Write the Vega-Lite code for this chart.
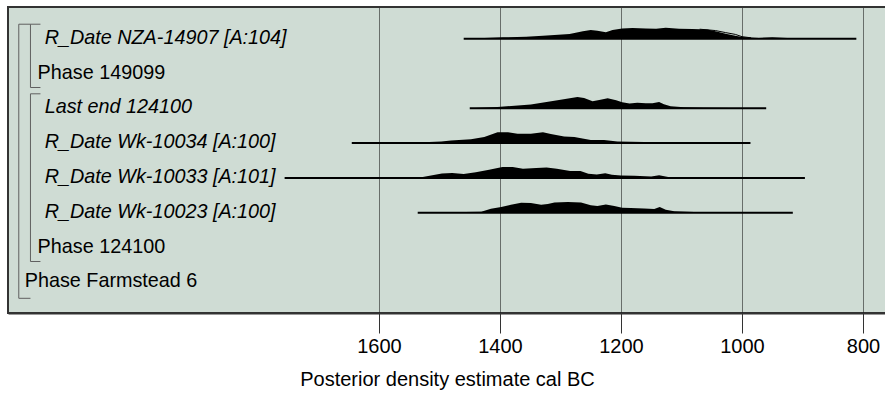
{
  "$schema": "https://vega.github.io/schema/vega-lite/v6.json",
  "width": 878,
  "height": 306,
  "autosize": {"type": "none"},
  "padding": {"left": 8, "top": 7, "right": 0, "bottom": 81},
  "background": "white",
  "config": {
    "view": {"fill": "#cfdcd4", "stroke": "#333333", "strokeWidth": 2},
    "font": "Liberation Sans",
    "axisX": {
      "grid": true, "gridColor": "#000000", "gridDash": [1, 1], "gridWidth": 1, "gridOpacity": 1,
      "tickSize": 20, "tickColor": "#333333", "tickWidth": 1,
      "domainColor": "#333333", "domainWidth": 2,
      "labelFontSize": 20, "labelFont": "Liberation Sans", "labelColor": "#000000", "labelPadding": 3,
      "labelFlush": false, "labelOverlap": false,
      "titleFontSize": 20, "titleFontWeight": "normal",
      "titleFont": "Liberation Sans", "titleColor": "#000000", "titlePadding": 13
    }
  },
  "datasets": {
    "ranges": [
      {"row": 0, "start": 1460, "end": 811},
      {"row": 2, "start": 1450, "end": 960},
      {"row": 3, "start": 1645, "end": 986},
      {"row": 4, "start": 1756, "end": 896},
      {"row": 5, "start": 1536, "end": 916}
    ],
    "dens": [
      {"row": 0, "yr": 1460, "p": 0}, {"row": 0, "yr": 1456, "p": 0}, {"row": 0, "yr": 1395, "p": 0.12}, {"row": 0, "yr": 1357, "p": 0.18},
      {"row": 0, "yr": 1329, "p": 0.27}, {"row": 0, "yr": 1285, "p": 0.42}, {"row": 0, "yr": 1263, "p": 0.65}, {"row": 0, "yr": 1250, "p": 0.77},
      {"row": 0, "yr": 1239, "p": 0.71}, {"row": 0, "yr": 1225, "p": 0.56}, {"row": 0, "yr": 1214, "p": 0.77}, {"row": 0, "yr": 1198, "p": 0.91},
      {"row": 0, "yr": 1181, "p": 0.95}, {"row": 0, "yr": 1159, "p": 0.91}, {"row": 0, "yr": 1142, "p": 0.88}, {"row": 0, "yr": 1126, "p": 0.97},
      {"row": 0, "yr": 1104, "p": 0.88}, {"row": 0, "yr": 1082, "p": 0.86}, {"row": 0, "yr": 1057, "p": 0.82}, {"row": 0, "yr": 1044, "p": 0.65},
      {"row": 0, "yr": 1027, "p": 0.44}, {"row": 0, "yr": 1011, "p": 0.27}, {"row": 0, "yr": 1000, "p": 0.15}, {"row": 0, "yr": 972, "p": 0.06},
      {"row": 0, "yr": 950, "p": 0.12}, {"row": 0, "yr": 917, "p": 0.03}, {"row": 0, "yr": 890, "p": 0},

      {"row": 2, "yr": 1450, "p": 0}, {"row": 2, "yr": 1404, "p": 0.12}, {"row": 2, "yr": 1349, "p": 0.33}, {"row": 2, "yr": 1305, "p": 0.71},
      {"row": 2, "yr": 1272, "p": 1.0}, {"row": 2, "yr": 1261, "p": 0.91}, {"row": 2, "yr": 1247, "p": 0.62}, {"row": 2, "yr": 1236, "p": 0.73},
      {"row": 2, "yr": 1222, "p": 0.88}, {"row": 2, "yr": 1208, "p": 0.71}, {"row": 2, "yr": 1198, "p": 0.53}, {"row": 2, "yr": 1186, "p": 0.42},
      {"row": 2, "yr": 1173, "p": 0.5}, {"row": 2, "yr": 1159, "p": 0.44}, {"row": 2, "yr": 1148, "p": 0.44}, {"row": 2, "yr": 1137, "p": 0.56},
      {"row": 2, "yr": 1129, "p": 0.35}, {"row": 2, "yr": 1118, "p": 0.18}, {"row": 2, "yr": 1096, "p": 0.09}, {"row": 2, "yr": 1063, "p": 0.06},
      {"row": 2, "yr": 1019, "p": 0.03}, {"row": 2, "yr": 961, "p": 0},

      {"row": 3, "yr": 1645, "p": 0}, {"row": 3, "yr": 1547, "p": 0.03}, {"row": 3, "yr": 1497, "p": 0.15}, {"row": 3, "yr": 1481, "p": 0.24},
      {"row": 3, "yr": 1448, "p": 0.35}, {"row": 3, "yr": 1426, "p": 0.53}, {"row": 3, "yr": 1404, "p": 0.95}, {"row": 3, "yr": 1387, "p": 0.97},
      {"row": 3, "yr": 1371, "p": 0.82}, {"row": 3, "yr": 1349, "p": 0.82}, {"row": 3, "yr": 1329, "p": 0.95}, {"row": 3, "yr": 1316, "p": 0.8},
      {"row": 3, "yr": 1294, "p": 0.59}, {"row": 3, "yr": 1277, "p": 0.53}, {"row": 3, "yr": 1266, "p": 0.44}, {"row": 3, "yr": 1250, "p": 0.27},
      {"row": 3, "yr": 1228, "p": 0.27}, {"row": 3, "yr": 1217, "p": 0.2}, {"row": 3, "yr": 1206, "p": 0.15}, {"row": 3, "yr": 1162, "p": 0.09},
      {"row": 3, "yr": 1134, "p": 0.06}, {"row": 3, "yr": 1107, "p": 0.03}, {"row": 3, "yr": 1002, "p": 0},

      {"row": 4, "yr": 1756, "p": 0}, {"row": 4, "yr": 1530, "p": 0.06}, {"row": 4, "yr": 1496, "p": 0.39}, {"row": 4, "yr": 1479, "p": 0.44},
      {"row": 4, "yr": 1460, "p": 0.35}, {"row": 4, "yr": 1440, "p": 0.5}, {"row": 4, "yr": 1418, "p": 0.72}, {"row": 4, "yr": 1396, "p": 0.96},
      {"row": 4, "yr": 1379, "p": 0.96}, {"row": 4, "yr": 1362, "p": 0.81}, {"row": 4, "yr": 1340, "p": 0.87}, {"row": 4, "yr": 1323, "p": 0.93},
      {"row": 4, "yr": 1306, "p": 0.81}, {"row": 4, "yr": 1284, "p": 0.6}, {"row": 4, "yr": 1267, "p": 0.6}, {"row": 4, "yr": 1254, "p": 0.36},
      {"row": 4, "yr": 1240, "p": 0.3}, {"row": 4, "yr": 1226, "p": 0.42}, {"row": 4, "yr": 1215, "p": 0.27}, {"row": 4, "yr": 1200, "p": 0.21},
      {"row": 4, "yr": 1178, "p": 0.18}, {"row": 4, "yr": 1150, "p": 0.12}, {"row": 4, "yr": 1137, "p": 0.24}, {"row": 4, "yr": 1122, "p": 0.09},
      {"row": 4, "yr": 1067, "p": 0.03}, {"row": 4, "yr": 994, "p": 0},

      {"row": 5, "yr": 1536, "p": 0}, {"row": 5, "yr": 1431, "p": 0.09}, {"row": 5, "yr": 1415, "p": 0.35}, {"row": 5, "yr": 1398, "p": 0.5},
      {"row": 5, "yr": 1382, "p": 0.71}, {"row": 5, "yr": 1365, "p": 0.88}, {"row": 5, "yr": 1349, "p": 0.86}, {"row": 5, "yr": 1332, "p": 0.71},
      {"row": 5, "yr": 1321, "p": 0.77}, {"row": 5, "yr": 1310, "p": 0.91}, {"row": 5, "yr": 1288, "p": 0.95}, {"row": 5, "yr": 1266, "p": 0.91},
      {"row": 5, "yr": 1250, "p": 0.65}, {"row": 5, "yr": 1239, "p": 0.59}, {"row": 5, "yr": 1225, "p": 0.73}, {"row": 5, "yr": 1211, "p": 0.59},
      {"row": 5, "yr": 1198, "p": 0.44}, {"row": 5, "yr": 1184, "p": 0.42}, {"row": 5, "yr": 1162, "p": 0.38}, {"row": 5, "yr": 1145, "p": 0.33},
      {"row": 5, "yr": 1136, "p": 0.5}, {"row": 5, "yr": 1126, "p": 0.27}, {"row": 5, "yr": 1112, "p": 0.12}, {"row": 5, "yr": 1079, "p": 0.06},
      {"row": 5, "yr": 1046, "p": 0.03}, {"row": 5, "yr": 1013, "p": 0}
    ],
    "prior": [
      {"row": 0, "yr": 1070, "p": 0.84}, {"row": 0, "yr": 1044, "p": 0.72}, {"row": 0, "yr": 1027, "p": 0.54},
      {"row": 0, "yr": 1011, "p": 0.38}, {"row": 0, "yr": 1000, "p": 0.18}, {"row": 0, "yr": 985, "p": 0.08}
    ],
    "labels": [
      {"row": 0, "level": 2, "label": "R_Date NZA-14907 [A:104]"},
      {"row": 1, "level": 1, "label": "Phase 149099"},
      {"row": 2, "level": 2, "label": "Last end 124100"},
      {"row": 3, "level": 2, "label": "R_Date Wk-10034 [A:100]"},
      {"row": 4, "level": 2, "label": "R_Date Wk-10033 [A:101]"},
      {"row": 5, "level": 2, "label": "R_Date Wk-10023 [A:100]"},
      {"row": 6, "level": 1, "label": "Phase 124100"},
      {"row": 7, "level": 0, "label": "Phase Farmstead 6"}
    ],
    "brackets": [
      {"level": 0, "first": 0, "last": 7},
      {"level": 1, "first": 0, "last": 1},
      {"level": 1, "first": 2, "last": 6}
    ]
  },
  "layer": [
    {
      "data": {"name": "ranges"},
      "mark": {"type": "rule", "color": "#000000", "strokeWidth": 2},
      "encoding": {
        "x": {
          "field": "start", "type": "quantitative",
          "scale": {"domain": [761.98, 2213.22], "reverse": true, "nice": false, "zero": false},
          "axis": {"values": [1600, 1400, 1200, 1000, 800], "format": "d", "title": "Posterior density estimate cal BC"}
        },
        "x2": {"field": "end"},
        "y": {"field": "row", "type": "quantitative", "scale": {"domain": [-0.911, 7.882], "reverse": true, "nice": false, "zero": false}, "axis": null}
      }
    },
    {
      "data": {"name": "dens"},
      "transform": [{"calculate": "datum.row - datum.p * 0.325", "as": "top"}],
      "mark": {"type": "area", "color": "#000000", "opacity": 1},
      "encoding": {
        "x": {"field": "yr", "type": "quantitative", "title": "Posterior density estimate cal BC"},
        "y": {"field": "top", "type": "quantitative", "axis": null},
        "y2": {"field": "row"},
        "detail": {"field": "row"}
      }
    },
    {
      "data": {"name": "prior"},
      "transform": [{"calculate": "datum.row - datum.p * 0.325", "as": "top"}],
      "mark": {"type": "line", "color": "#000000", "strokeWidth": 1},
      "encoding": {
        "x": {"field": "yr", "type": "quantitative", "title": "Posterior density estimate cal BC"},
        "y": {"field": "top", "type": "quantitative", "axis": null}
      }
    },
    {
      "data": {"name": "labels"},
      "transform": [{"filter": "datum.level == 2"}],
      "mark": {"type": "text", "align": "left", "baseline": "middle", "fontSize": 19.8, "font": "Liberation Sans", "fontStyle": "italic", "color": "#000000", "dy": -1},
      "encoding": {
        "x": {"datum": 2152.6, "type": "quantitative"},
        "y": {"field": "row", "type": "quantitative", "axis": null},
        "text": {"field": "label"}
      }
    },
    {
      "data": {"name": "labels"},
      "transform": [{"filter": "datum.level == 1"}],
      "mark": {"type": "text", "align": "left", "baseline": "middle", "fontSize": 19.8, "font": "Liberation Sans", "color": "#000000", "dy": -1},
      "encoding": {
        "x": {"datum": 2164.3, "type": "quantitative"},
        "y": {"field": "row", "type": "quantitative", "axis": null},
        "text": {"field": "label"}
      }
    },
    {
      "data": {"name": "labels"},
      "transform": [{"filter": "datum.level == 0"}],
      "mark": {"type": "text", "align": "left", "baseline": "middle", "fontSize": 19.8, "font": "Liberation Sans", "color": "#000000", "dy": -1},
      "encoding": {
        "x": {"datum": 2185.6, "type": "quantitative"},
        "y": {"field": "row", "type": "quantitative", "axis": null},
        "text": {"field": "label"}
      }
    },
    {
      "data": {"name": "brackets"},
      "transform": [{"filter": "datum.level == 0"}],
      "mark": {"type": "rule", "color": "#606060", "strokeWidth": 1, "yOffset": -14.5, "y2Offset": 16},
      "encoding": {
        "x": {"datum": 2195.4, "type": "quantitative"},
        "y": {"field": "first", "type": "quantitative", "axis": null},
        "y2": {"field": "last"}
      }
    },
    {
      "data": {"name": "brackets"},
      "transform": [{"filter": "datum.level == 0"}],
      "mark": {"type": "rule", "color": "#606060", "strokeWidth": 1, "yOffset": -14.5},
      "encoding": {
        "x": {"datum": 2195.4, "type": "quantitative"},
        "x2": {"datum": 2176.1},
        "y": {"field": "first", "type": "quantitative", "axis": null}
      }
    },
    {
      "data": {"name": "brackets"},
      "transform": [{"filter": "datum.level == 0"}],
      "mark": {"type": "rule", "color": "#606060", "strokeWidth": 1, "yOffset": 16},
      "encoding": {
        "x": {"datum": 2195.4, "type": "quantitative"},
        "x2": {"datum": 2176.1},
        "y": {"field": "last", "type": "quantitative", "axis": null}
      }
    },
    {
      "data": {"name": "brackets"},
      "transform": [{"filter": "datum.level == 1"}],
      "mark": {"type": "rule", "color": "#606060", "strokeWidth": 1, "yOffset": -14.5, "y2Offset": 14},
      "encoding": {
        "x": {"datum": 2176.1, "type": "quantitative"},
        "y": {"field": "first", "type": "quantitative", "axis": null},
        "y2": {"field": "last"}
      }
    },
    {
      "data": {"name": "brackets"},
      "transform": [{"filter": "datum.level == 1"}],
      "mark": {"type": "rule", "color": "#606060", "strokeWidth": 1, "yOffset": -14.5},
      "encoding": {
        "x": {"datum": 2176.1, "type": "quantitative"},
        "x2": {"datum": 2159.6},
        "y": {"field": "first", "type": "quantitative", "axis": null}
      }
    },
    {
      "data": {"name": "brackets"},
      "transform": [{"filter": "datum.level == 1"}],
      "mark": {"type": "rule", "color": "#606060", "strokeWidth": 1, "yOffset": 14},
      "encoding": {
        "x": {"datum": 2176.1, "type": "quantitative"},
        "x2": {"datum": 2159.6},
        "y": {"field": "last", "type": "quantitative", "axis": null}
      }
    }
  ]
}
